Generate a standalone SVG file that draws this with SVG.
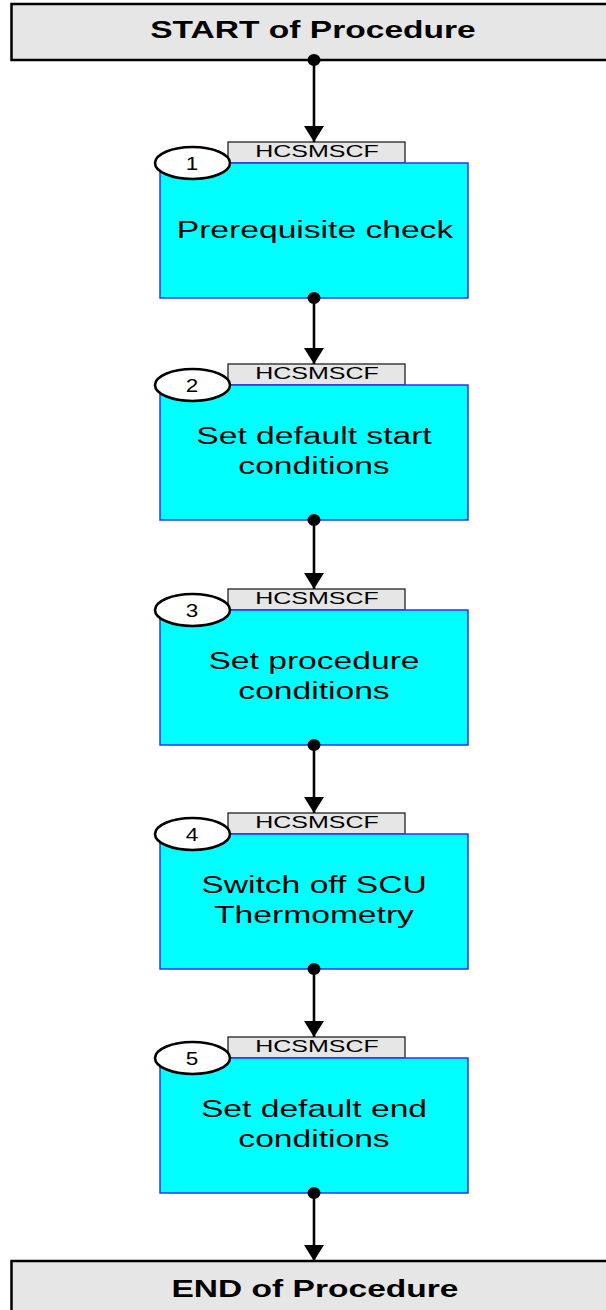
<svg xmlns="http://www.w3.org/2000/svg" width="606" height="1310" viewBox="0 0 606 1310">
<defs>
<style>
.term{fill:#e6e6e6;stroke:#000;stroke-width:2.5}
.tt{font-family:"Liberation Sans",Arial,sans-serif;font-weight:bold;font-size:23.3px;fill:#000;text-anchor:middle}
.box{fill:#00ffff;stroke:#3030ff;stroke-width:1.5}
.tab{fill:#e6e6e6;stroke:#222;stroke-width:1.3}
.ell{fill:#fff;stroke:#000;stroke-width:2.6}
.lbl{font-family:"Liberation Sans",Arial,sans-serif;font-size:24.5px;fill:#000;text-anchor:middle}
.tabt{font-family:"Liberation Sans",Arial,sans-serif;font-size:17px;fill:#000;text-anchor:middle}
.num{font-family:"Liberation Sans",Arial,sans-serif;font-size:18px;fill:#000;text-anchor:middle}
.con{stroke:#000;stroke-width:2.6;fill:none}
.dot{fill:#000}
</style>
<marker id="arr" markerUnits="userSpaceOnUse" markerWidth="17" markerHeight="20" refX="16" refY="10" orient="auto" viewBox="0 0 17 20">
<path d="M0,0 L16,10 L0,20 Z" fill="#000"/>
</marker>
</defs>

<g id="start">
<rect class="term" x="11.5" y="4" width="620" height="56"/>
<text class="tt" transform="translate(313,38.3) scale(1.44,1)">START of Procedure</text>
</g>

<g id="node1">
<rect class="tab" x="228" y="142" width="177" height="21"/>
<text class="tabt" transform="translate(317,157.3) scale(1.47,1)">HCSMSCF</text>
<rect class="box" x="160" y="163" width="308" height="135"/>
<ellipse class="ell" cx="192.5" cy="163" rx="37.5" ry="16"/>
<text class="num" transform="translate(192,170) scale(1.25,1)">1</text>
<text class="lbl" transform="translate(315,238.3) scale(1.372,1)">Prerequisite check</text>
</g>

<g id="node2">
<rect class="tab" x="228" y="364" width="177" height="21"/>
<text class="tabt" transform="translate(317,379.3) scale(1.47,1)">HCSMSCF</text>
<rect class="box" x="160" y="385" width="308" height="135"/>
<ellipse class="ell" cx="192.5" cy="385" rx="37.5" ry="16"/>
<text class="num" transform="translate(192,392) scale(1.25,1)">2</text>
<text class="lbl" transform="translate(314,443.5) scale(1.372,1)">Set default start</text>
<text class="lbl" transform="translate(314,473.8) scale(1.372,1)">conditions</text>
</g>

<g id="node3">
<rect class="tab" x="228" y="589" width="177" height="21"/>
<text class="tabt" transform="translate(317,604.3) scale(1.47,1)">HCSMSCF</text>
<rect class="box" x="160" y="610" width="308" height="135"/>
<ellipse class="ell" cx="192.5" cy="610" rx="37.5" ry="16"/>
<text class="num" transform="translate(192,617) scale(1.25,1)">3</text>
<text class="lbl" transform="translate(314,668.5) scale(1.372,1)">Set procedure</text>
<text class="lbl" transform="translate(314,698.8) scale(1.372,1)">conditions</text>
</g>

<g id="node4">
<rect class="tab" x="228" y="813" width="177" height="21"/>
<text class="tabt" transform="translate(317,828.3) scale(1.47,1)">HCSMSCF</text>
<rect class="box" x="160" y="834" width="308" height="135"/>
<ellipse class="ell" cx="192.5" cy="834" rx="37.5" ry="16"/>
<text class="num" transform="translate(192,841) scale(1.25,1)">4</text>
<text class="lbl" transform="translate(314,892.5) scale(1.372,1)">Switch off SCU</text>
<text class="lbl" transform="translate(314,922.8) scale(1.372,1)">Thermometry</text>
</g>

<g id="node5">
<rect class="tab" x="228" y="1037" width="177" height="21"/>
<text class="tabt" transform="translate(317,1052.3) scale(1.47,1)">HCSMSCF</text>
<rect class="box" x="160" y="1058" width="308" height="135"/>
<ellipse class="ell" cx="192.5" cy="1058" rx="37.5" ry="16"/>
<text class="num" transform="translate(192,1065) scale(1.25,1)">5</text>
<text class="lbl" transform="translate(314,1116.5) scale(1.372,1)">Set default end</text>
<text class="lbl" transform="translate(314,1146.8) scale(1.372,1)">conditions</text>
</g>

<g id="end">
<rect class="term" x="11.5" y="1261" width="620" height="60"/>
<text class="tt" transform="translate(315,1297.3) scale(1.44,1)">END of Procedure</text>
</g>

<g id="connectors">
<line class="con" x1="314" y1="60" x2="314" y2="142" marker-end="url(#arr)"/>
<line class="con" x1="314" y1="298" x2="314" y2="364" marker-end="url(#arr)"/>
<line class="con" x1="314" y1="520" x2="314" y2="589" marker-end="url(#arr)"/>
<line class="con" x1="314" y1="745" x2="314" y2="813" marker-end="url(#arr)"/>
<line class="con" x1="314" y1="969" x2="314" y2="1037" marker-end="url(#arr)"/>
<line class="con" x1="314" y1="1193" x2="314" y2="1261" marker-end="url(#arr)"/>
<ellipse class="dot" cx="314" cy="60" rx="6.5" ry="6"/>
<ellipse class="dot" cx="314" cy="298" rx="6.5" ry="6"/>
<ellipse class="dot" cx="314" cy="520" rx="6.5" ry="6"/>
<ellipse class="dot" cx="314" cy="745" rx="6.5" ry="6"/>
<ellipse class="dot" cx="314" cy="969" rx="6.5" ry="6"/>
<ellipse class="dot" cx="314" cy="1193" rx="6.5" ry="6"/>
</g>
</svg>
